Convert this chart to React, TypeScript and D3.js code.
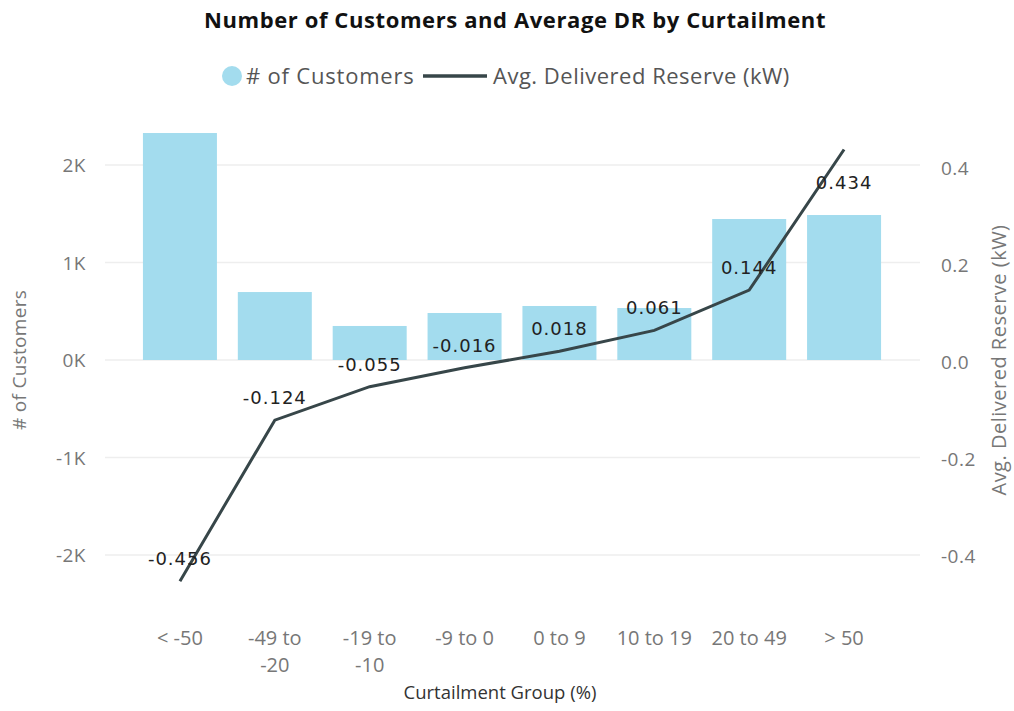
import React from 'react';
import * as d3 from 'd3';

const categories = ['< -50', '-49 to -20', '-19 to -10', '-9 to 0', '0 to 9', '10 to 19', '20 to 49', '> 50'];
const categoryLines = [['< -50'], ['-49 to', '-20'], ['-19 to', '-10'], ['-9 to 0'], ['0 to 9'], ['10 to 19'], ['20 to 49'], ['> 50']];
const customers = [2328, 697, 349, 482, 554, 533, 1446, 1487];
const avgDR = [-0.456, -0.124, -0.055, -0.016, 0.018, 0.061, 0.144, 0.434];
const leftTicks = [-2000, -1000, 0, 1000, 2000];
const rightTicks = [-0.4, -0.2, 0, 0.2, 0.4];

const W = 1014;
const H = 711;
const BAR = '#a3dcee';
const LINE = '#374649';
const AXIS = '#777777';
const FONT = "'Open Sans', 'Noto Sans', sans-serif";

export default function App() {
  const x = d3.scaleBand<string>().domain(categories).range([132.5, 891.5]).paddingInner(0.22).paddingOuter(0.11);
  const yL = d3.scaleLinear().domain([-2000, 2000]).range([555, 165]);
  const yR = d3.scaleLinear().domain([-0.4, 0.4]).range([554, 166]);
  const cx = (c: string) => (x(c) as number) + x.bandwidth() / 2;
  const line = d3.line<number>().x((_, i) => cx(categories[i])).y((d) => yR(d));
  const fmtL = (v: number) => d3.format('d')(v / 1000).replace('−', '-') + 'K';
  const fmtR = (v: number) => d3.format('.1f')(v).replace('−', '-');

  return (
    <svg width={W} height={H} style={{ position: 'absolute', left: 0, top: 0, background: '#fff' }} fontFamily={FONT}>
      <text x={515} y={28} textAnchor="middle" fontSize={22} fontWeight={700} letterSpacing={0.6} fill="#111">
        Number of Customers and Average DR by Curtailment
      </text>
      {/* legend */}
      <circle cx={232} cy={76} r={10} fill={BAR} />
      <text x={246} y={84} fontSize={22} letterSpacing={0.8} fill="#555">
        # of Customers
      </text>
      <line x1={423} x2={487} y1={76} y2={76} stroke={LINE} strokeWidth={3.5} />
      <text x={493} y={84} fontSize={22} letterSpacing={0.5} fill="#555">
        Avg. Delivered Reserve (kW)
      </text>

      {/* gridlines */}
      {leftTicks.map((t) => (
        <line key={'g' + t} x1={105} x2={920} y1={yL(t)} y2={yL(t)} stroke="#eeeeee" strokeWidth={1.5} />
      ))}
      {leftTicks.map((t) => (
        <text key={'l' + t} x={86} y={yL(t) + 7} textAnchor="end" fontSize={19} letterSpacing={0.5} fill={AXIS}>
          {fmtL(t)}
        </text>
      ))}
      {rightTicks.map((t) => (
        <text key={'r' + t} x={941} y={yR(t) + 9} textAnchor="start" fontSize={19} letterSpacing={0.5} fill={AXIS}>
          {fmtR(t)}
        </text>
      ))}
      <text transform="translate(26,360) rotate(-90)" textAnchor="middle" fontSize={19} letterSpacing={0.3} fill={AXIS}>
        # of Customers
      </text>
      <text transform="translate(1006,360) rotate(-90)" textAnchor="middle" fontSize={20} letterSpacing={0.5} fill={AXIS}>
        Avg. Delivered Reserve (kW)
      </text>

      {/* bars */}
      {categories.map((c, i) => (
        <rect key={c} x={x(c)} y={yL(customers[i])} width={x.bandwidth()} height={yL(0) - yL(customers[i])} fill={BAR} />
      ))}

      {/* line */}
      <path d={line(avgDR) || ''} fill="none" stroke={LINE} strokeWidth={3} />

      {/* data labels */}
      {avgDR.map((v, i) => {
        const last = i === avgDR.length - 1;
        const y = yR(v) + (last ? 39 : -16);
        return (
          <text key={'d' + i} x={cx(categories[i])} y={y} textAnchor="middle" fontSize={18} letterSpacing={1} fill="#222" fontFamily="'DejaVu Sans', sans-serif">
            {d3.format('.3f')(v).replace('−', '-')}
          </text>
        );
      })}

      {/* x axis labels */}
      {categories.map((c, i) => (
        <text key={'x' + c} x={cx(c)} y={645} textAnchor="middle" fontSize={20} fill={AXIS}>
          {categoryLines[i].map((ln, j) => (
            <tspan key={j} x={cx(c)} dy={j === 0 ? 0 : 27}>
              {ln}
            </tspan>
          ))}
        </text>
      ))}
      <text x={500} y={699} textAnchor="middle" fontSize={18.5} fill="#333">
        Curtailment Group (%)
      </text>
    </svg>
  );
}
